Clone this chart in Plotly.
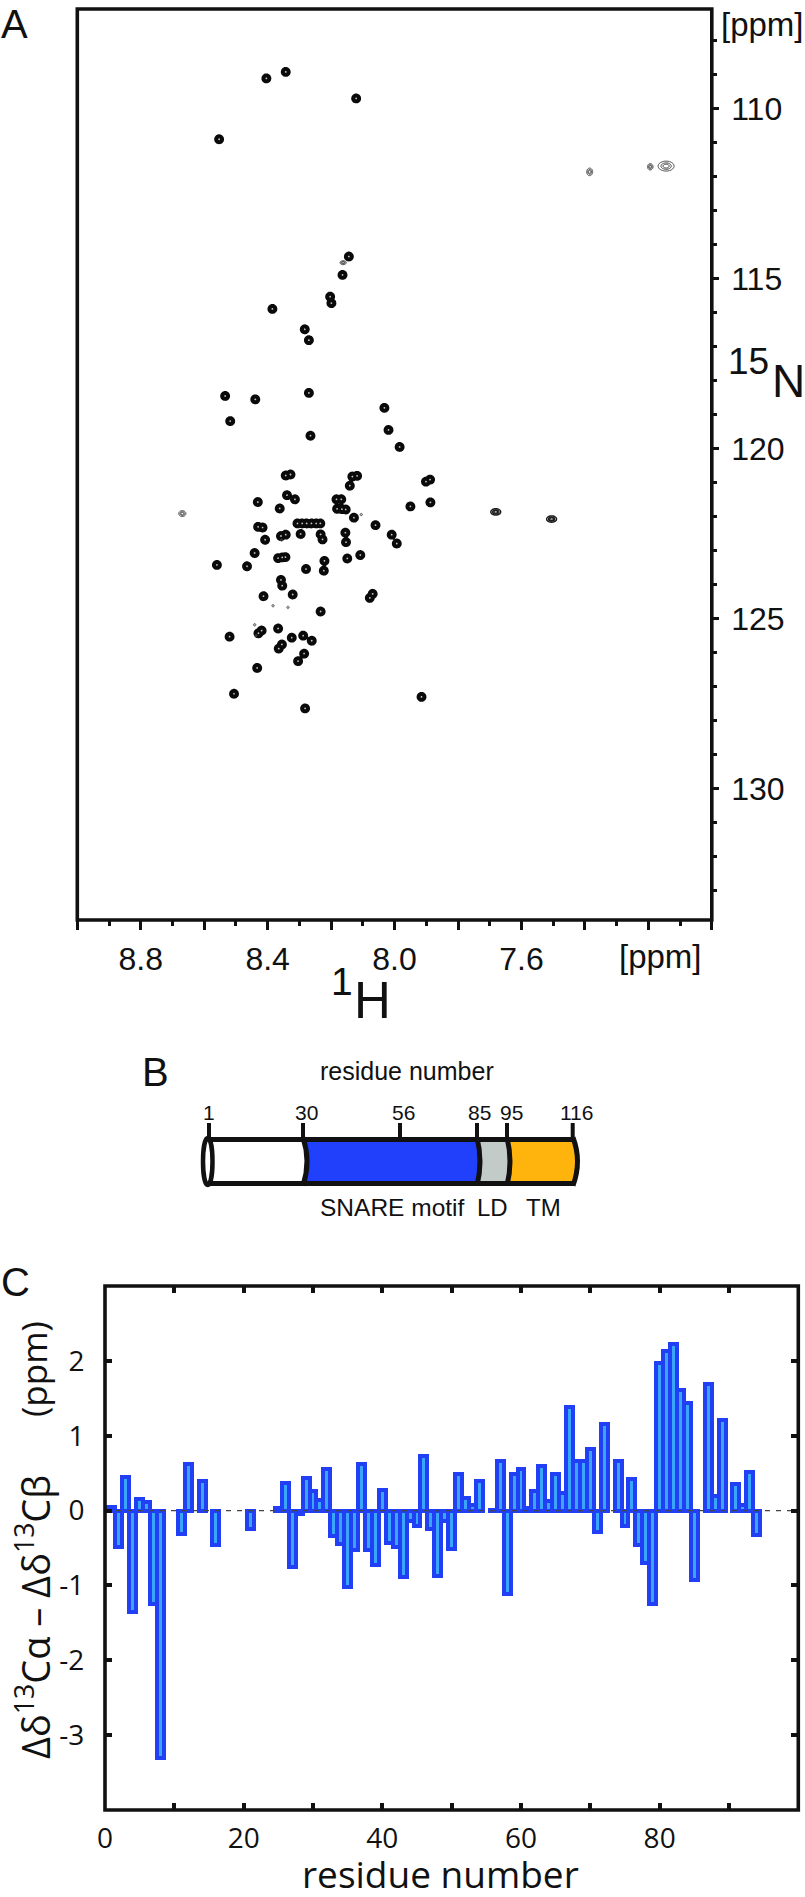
import numpy as np
import plotly.graph_objects as go

W, H = 805, 1897

# ---------- Panel A: peak positions (1H ppm, 15N ppm)
peak_h = [8.404,8.343,8.121,8.553,8.144,8.164,8.203,8.199,8.385,8.283,8.270,
          8.534,8.439,8.270,8.032,8.518,8.019,8.265,7.984,8.343,8.328,8.133,8.118,8.141,
          7.901,7.888,7.887,7.950,8.339,8.314,8.431,8.362,8.183,8.168,8.181,8.166,8.154,
          8.128,8.060,8.306,8.291,8.277,8.262,8.247,8.234,8.430,8.416,8.408,8.358,8.343,
          8.296,8.233,8.227,8.155,8.153,8.009,7.993,8.441,8.367,8.354,8.344,8.221,8.149,
          8.108,8.560,8.465,8.279,8.223,8.358,8.354,8.413,8.321,8.078,8.069,8.233,8.367,
          8.429,8.419,8.520,8.324,8.288,8.261,8.365,8.355,8.285,8.304,8.433,8.506,7.915,8.282]
peak_n = [109.12,108.93,109.71,110.91,114.36,114.90,115.54,115.73,115.90,116.50,116.82,
          118.46,118.56,118.37,118.81,119.20,119.46,119.63,119.96,120.80,120.77,120.83,120.81,121.10,
          120.98,120.92,121.59,121.71,121.38,121.50,121.58,121.77,121.50,121.50,121.78,121.79,121.80,
          122.04,122.26,122.21,122.21,122.21,122.21,122.21,122.21,122.31,122.33,122.69,122.58,122.54,
          122.52,122.53,122.68,122.48,122.76,122.54,122.80,123.08,123.23,123.21,123.20,123.31,123.24,
          123.14,123.43,123.47,123.55,123.60,123.87,124.04,124.35,124.30,124.40,124.28,124.80,125.30,
          125.44,125.36,125.54,125.57,125.51,125.66,125.89,125.77,126.04,126.26,126.46,127.22,127.31,127.65]

dark_h = [7.681, 7.505]
dark_n = [121.87, 122.08]
weak_h = [7.385, 7.194, 7.144, 8.669, 8.162]
weak_n = [111.87, 111.72, 111.70, 121.92, 114.54]
weak_rx = [3, 2.8, 8, 3.6, 3.2]
weak_ry = [3.8, 3.2, 5, 3, 2]
faint_h = [8.105, 8.383, 8.336, 8.441, 8.437, 8.356]
faint_n = [121.95, 124.63, 124.68, 125.19, 125.51, 122.70]

h_ticks = [9.0, 8.8, 8.6, 8.4, 8.2, 8.0, 7.8, 7.6, 7.4, 7.2, 7.0]
h_labels = ["", "8.8", "", "8.4", "", "8.0", "", "7.6", "", "", ""]
n_ticks = [110, 115, 120, 125, 130]

# ---------- Panel B: construct domains
mark_labels = ["1", "30", "56", "85", "95", "116"]

# ---------- Panel C: secondary chemical shifts
residues = [1,2,3,4,5,6,7,8,11,12,14,16,21,25,26,27,28,29,30,31,32,33,34,35,36,37,38,39,40,
            41,42,43,44,45,46,47,48,49,50,51,52,53,54,56,57,58,59,60,61,62,63,64,65,66,67,
            68,69,70,71,72,74,75,76,77,78,79,80,81,82,83,84,85,87,88,89,91,92,93,94]
delta = [0.05,-0.48,0.45,-1.35,0.16,0.12,-1.25,-3.31,-0.31,0.62,0.40,-0.46,-0.25,0.03,0.37,-0.76,
         -0.05,0.43,0.26,0.14,0.55,-0.34,-0.44,-1.02,-0.52,0.62,-0.52,-0.73,0.28,-0.43,-0.48,-0.89,
         -0.14,-0.21,0.73,-0.24,-0.87,-0.14,-0.51,0.49,0.17,0.08,0.39,0.01,0.66,-1.11,0.49,0.55,
         0.03,0.26,0.59,0.13,0.49,0.24,1.39,0.66,0.66,0.82,-0.28,1.15,0.66,-0.21,0.42,-0.46,-0.70,
         -1.25,1.97,2.13,2.23,1.61,1.44,-0.93,1.69,0.20,1.21,0.35,0.08,0.51,-0.33]
res_ticks = [0, 10, 20, 30, 40, 50, 60, 70, 80, 90, 100]
res_labels = ["0", "", "20", "", "40", "", "60", "", "80", "", ""]
ppm_ticks = [-3, -2, -1, 0, 1, 2]
ppm_labels = ["-3", "-2", "-1", "0", "1", "2"]

BLACK = "#111111"
SANS = "Liberation Sans"
HUM = "Open Sans"

# ---------- frame geometry in pixels
A_L, A_R, A_T, A_B = 77.3, 711.8, 9, 920
C_L, C_R, C_T, C_B = 105, 798.3, 1286, 1810
HX = (A_R - A_L) / 2.0          # px per 1H ppm
NY = 34.0                       # px per 15N ppm

def fx(p): return p / W
def fy(p): return 1 - p / H

fig = go.Figure()

# main contour field
gx = np.arange(8.63, 7.84, -0.75 / HX)
gy = np.arange(108.4, 128.2, 0.75 / NY)
XX, YY = np.meshgrid(gx, gy)
field = np.zeros_like(XX)
SIG = 3.0
for a, b in zip(peak_h, peak_n):
    d = ((XX - a) * HX) ** 2 + ((YY - b) * NY) ** 2
    field = np.maximum(field, np.exp(-d / (2 * SIG ** 2)))
fig.add_trace(go.Contour(
    x=gx, y=gy, z=field, xaxis="x", yaxis="y", showscale=False, hoverinfo="skip",
    zmin=0, zmax=1, autocontour=False,
    contours=dict(coloring="fill", showlines=False, start=0.26, end=0.95, size=0.69),
    line=dict(width=0),
    colorscale=[[0, "#ffffff"], [0.2, "#ffffff"], [0.2, "#0a0a0a"], [0.8, "#0a0a0a"], [0.8, "#c0c0c0"], [1, "#c0c0c0"]],
))

def ring_trace(cx, cy, rx, ry, start, end, size, color, width):
    n = 41
    xs = np.linspace(cx + 2.2 * rx / HX, cx - 2.2 * rx / HX, n)
    ys = np.linspace(cy - 2.2 * ry / NY, cy + 2.2 * ry / NY, n)
    X, Y = np.meshgrid(xs, ys)
    z = np.exp(-2 * (((X - cx) * HX / rx) ** 2 + ((Y - cy) * NY / ry) ** 2))
    return go.Contour(x=xs, y=ys, z=z, xaxis="x", yaxis="y", showscale=False, hoverinfo="skip",
                      autocontour=False,
                      contours=dict(coloring="lines", start=start, end=end, size=size),
                      line=dict(width=width), colorscale=[[0, color], [1, color]])

for a, b in zip(dark_h, dark_n):
    fig.add_trace(ring_trace(a, b, 5, 3.2, 0.14, 0.74, 0.3, "#1a1a1a", 1.4))
for a, b, rx, ry in zip(weak_h, weak_n, weak_rx, weak_ry):
    fig.add_trace(ring_trace(a, b, rx, ry, 0.14, 0.74, 0.3, "#333333", 0.9))
for a, b in zip(faint_h, faint_n):
    fig.add_trace(ring_trace(a, b, 1.6, 1.6, 0.3, 0.6, 0.3, "#555555", 0.7))

# Panel C
fig.add_trace(go.Scatter(x=[0, 100], y=[0, 0], mode="lines", xaxis="x2", yaxis="y2", hoverinfo="skip",
                         line=dict(color="#444444", width=1.3, dash="5px,6px")))
fig.add_trace(go.Bar(x=residues, y=delta, width=1, xaxis="x2", yaxis="y2", hoverinfo="skip",
                     marker=dict(color="#3aa6fb", line=dict(color="#2140f5", width=4))))

ax_font_a = dict(family=SANS, size=32, color=BLACK)
ax_font_c = dict(family=HUM, size=28, color=BLACK)

fig.update_layout(
    width=W, height=H, autosize=False, margin=dict(l=0, r=0, t=0, b=0, autoexpand=False),
    paper_bgcolor="white", plot_bgcolor="white", showlegend=False,
    xaxis=dict(domain=[fx(A_L), fx(A_R)], range=[9.0, 7.0], anchor="y", side="bottom", automargin=False,
               tickmode="array", tickvals=h_ticks, ticktext=h_labels, ticks="outside",
               ticklen=9, tickwidth=3, tickcolor=BLACK, tickfont=ax_font_a, ticklabelstandoff=2,
               minor=dict(tickmode="linear", tick0=7.1, dtick=0.2, ticks="outside", ticklen=5, tickwidth=3, tickcolor=BLACK, showgrid=False),
               showgrid=False, zeroline=False, showline=False),
    yaxis=dict(domain=[fy(A_B), fy(A_T)], range=[110 + (A_B - 108.3) / NY, 110 + (A_T - 108.3) / NY],
               anchor="x", side="right", automargin=False,
               tickmode="array", tickvals=n_ticks, ticktext=[str(v) for v in n_ticks], ticks="outside",
               ticklen=6, tickwidth=3, tickcolor=BLACK, tickfont=ax_font_a, ticklabelstandoff=6,
               minor=dict(tickmode="linear", tick0=100, dtick=1, ticks="outside", ticklen=4, tickwidth=2.5, tickcolor=BLACK, showgrid=False),
               showgrid=False, zeroline=False, showline=False),
    xaxis2=dict(domain=[fx(C_L), fx(C_R)], range=[0, 100], anchor="y2", side="bottom", automargin=False,
                tickmode="array", tickvals=res_ticks, ticktext=res_labels, ticks="inside", mirror="ticks",
                ticklen=7, tickwidth=3.5, tickcolor=BLACK, tickfont=ax_font_c, ticklabelstandoff=3,
                showgrid=False, zeroline=False, showline=True, linecolor=BLACK, linewidth=1),
    yaxis2=dict(domain=[fy(C_B), fy(C_T)], range=[-4, 3], anchor="x2", automargin=False,
                tickmode="array", tickvals=ppm_ticks, ticktext=ppm_labels, ticks="inside", mirror="ticks",
                ticklen=7, tickwidth=3.5, tickcolor=BLACK, tickfont=ax_font_c, ticklabelstandoff=14,
                showgrid=False, zeroline=False, showline=True, linecolor=BLACK, linewidth=1),
    bargap=0,
)

# ---------- shapes in page pixels
shapes = []
def line(x0, y0, x1, y1, w, color=BLACK):
    shapes.append(dict(type="line", xref="paper", yref="paper", x0=fx(x0), x1=fx(x1), y0=fy(y0), y1=fy(y1),
                       line=dict(color=color, width=w)))
def rect(x0, y0, x1, y1, w):
    shapes.append(dict(type="rect", xref="paper", yref="paper", x0=fx(x0), x1=fx(x1), y0=fy(y0), y1=fy(y1),
                       line=dict(color=BLACK, width=w), fillcolor="rgba(0,0,0,0)"))
def P(x, y): return f"{fx(x):.6f},{fy(y):.6f}"
def path(d, fill=None, w=0):
    shapes.append(dict(type="path", xref="paper", yref="paper", path=d,
                       fillcolor=fill or "rgba(0,0,0,0)",
                       line=dict(color=BLACK, width=w)))

rect(A_L, A_T, A_R, A_B, 3.6)
rect(C_L, C_T, C_R, C_B, 3.6)

# Panel B schematic
B_T, B_M, B_B = 1139.5, 1161.5, 1183.5
seg_top = [303, 477, 507, 573]
seg_ctrl = [311, 483, 513, 582]
seg_fill = ["#2140fb", "#c3cbc9", "#ffb30d"]
for i, col in enumerate(seg_fill):
    path(f"M{P(seg_top[i], B_T)} Q{P(seg_ctrl[i], B_M)} {P(seg_top[i], B_B)} L{P(seg_top[i+1], B_B)} "
         f"Q{P(seg_ctrl[i+1], B_M)} {P(seg_top[i+1], B_T)} Z", fill=col)
for top, ctrl in zip(seg_top, seg_ctrl):
    path(f"M{P(top, B_T - 2)} Q{P(ctrl, B_M)} {P(top, B_B + 2)}", w=5)
line(207, B_T, 574, B_T, 5)
line(207, B_B, 574, B_B, 5)
shapes.append(dict(type="circle", xref="paper", yref="paper", x0=fx(203), x1=fx(212.5), y0=fy(1138), y1=fy(1185),
                   line=dict(color=BLACK, width=4.5), fillcolor="white"))
mark_px = [209, 303, 400, 477, 507, 572.7]
mark_text_px = [209, 306, 403, 479, 511, 576]
for m in mark_px:
    line(m, 1123, m, 1137, 4)

fig.update_layout(shapes=shapes)

# ---------- text
def note(text, x, y, size, family=SANS, xanchor="center", angle=0):
    fig.add_annotation(text=text, xref="paper", yref="paper", x=fx(x), y=fy(y), showarrow=False,
                       xanchor=xanchor, yanchor="middle", textangle=angle,
                       font=dict(family=family, size=size, color=BLACK))

note("A", 14, 24, 40)
note("B", 155, 1072, 40)
note("C", 15, 1282, 40)
note("[ppm]", 762, 25, 33)
note("[ppm]", 660, 956, 33)
note("1", 342, 981, 39)
note("H", 372, 1001, 51)
note("15", 748, 361, 37)
note("N", 788, 381, 46)
note("residue number", 407, 1071, 25)
for t, x in zip(mark_labels, mark_text_px):
    note(t, x, 1112, 21)
note("SNARE motif", 392, 1207, 24.5)
note("LD", 492, 1207, 24)
note("TM", 543, 1207, 24)
note("residue number", 441, 1873, 37, family=HUM)
note("Δδ<sup>13</sup>Cα – Δδ<sup>13</sup>Cβ", 33, 1617, 38, family=HUM, angle=-90)
note("(ppm)", 33, 1369, 35, family=HUM, angle=-90)

fig.write_html("out.html", config=dict(displayModeBar=False),
               post_script="document.body.style.margin='0';document.body.style.overflow='hidden';")
